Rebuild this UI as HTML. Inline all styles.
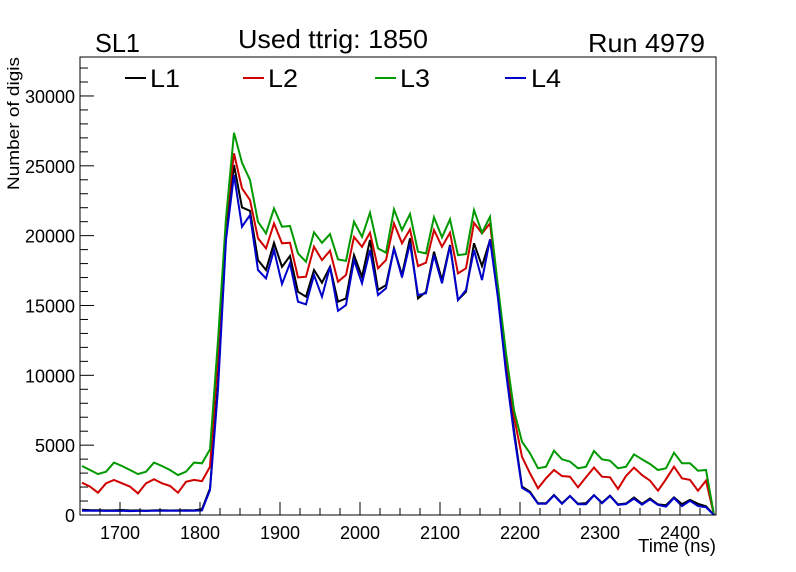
<!DOCTYPE html>
<html><head><meta charset="utf-8"><style>
html,body{margin:0;padding:0;background:#fff;}
svg{display:block;font-family:"Liberation Sans",Arial,sans-serif;}
</style></head><body>
<svg id="chart" width="796" height="572" viewBox="0 0 796 572" xmlns="http://www.w3.org/2000/svg">
<rect x="0" y="0" width="796" height="572" fill="#fff"/>
<text x="95" y="52" font-size="26" textLength="45" lengthAdjust="spacingAndGlyphs">SL1</text>
<text x="238" y="48" font-size="26" textLength="190" lengthAdjust="spacingAndGlyphs">Used ttrig: 1850</text>
<text x="588" y="52" font-size="26" textLength="117" lengthAdjust="spacingAndGlyphs">Run 4979</text>
<g id="plot"></g>
<text x="638" y="552" font-size="18" textLength="78" lengthAdjust="spacingAndGlyphs">Time (ns)</text>
<text transform="translate(19,190) rotate(-90)" font-size="17" textLength="133" lengthAdjust="spacingAndGlyphs">Number of digis</text>
<g>
<g><line x1="125" y1="78" x2="146" y2="78" stroke="#000" stroke-width="2"/><text x="150" y="87" font-size="25" textLength="30" lengthAdjust="spacingAndGlyphs">L1</text></g>
<g><line x1="243" y1="78" x2="264" y2="78" stroke="#d00000" stroke-width="2"/><text x="268" y="87" font-size="25" textLength="30" lengthAdjust="spacingAndGlyphs">L2</text></g>
<g><line x1="375" y1="78" x2="396" y2="78" stroke="#009900" stroke-width="2"/><text x="400" y="87" font-size="25" textLength="30" lengthAdjust="spacingAndGlyphs">L3</text></g>
<g><line x1="505" y1="78" x2="526" y2="78" stroke="#0000cc" stroke-width="2"/><text x="531" y="87" font-size="25" textLength="30" lengthAdjust="spacingAndGlyphs">L4</text></g>
</g>
</svg>
<script>
const xTicks = [1700,1800,1900,2000,2100,2200,2300,2400];
const yTicks = [0,5000,10000,15000,20000,25000,30000];
const seriesNames = ["L1","L2","L3","L4"];
const L3 = [3510,3220,2930,3100,3750,3510,3220,2930,3100,3750,3510,3220,2860,3100,3750,3700,
 4700,12500,21250,
 27370,25220,23980,21000,20160,21950,20640,20690,18730,18130,20240,19490,20110,18300,18200,21000,19920,
 21640,19090,18780,21880,20400,21550,18850,18730,21310,19880,21170,18610,18680,21830,20210,21350,
 16340,11600,7500,5250,4420,3340,3460,4600,3990,
 3820,3340,3460,4580,3990,3890,3340,3460,4340,3990,3650,3220,3340,4460,3700,3700,3170,3220,0];
const L2 = [2310,2030,1600,2270,2510,2270,2030,1550,2270,2560,2270,2080,1600,2380,2510,2430,
 3460,11500,21100,
 25890,23390,22550,19810,19090,20880,19450,19490,17010,17060,19210,18250,18920,16700,17180,19900,19200,
 20210,17660,18250,20880,19450,20450,17820,18060,20400,19210,20210,17300,17660,20920,20160,20880,
 16000,11330,7040,4170,2980,1910,2630,3220,2790,
 2740,1980,2700,3390,2740,2700,1860,2790,3390,2860,2460,1740,2560,3460,2630,2510,1740,2460,0];
const L1 = [380,350,340,330,330,360,320,330,310,330,340,320,330,340,330,420,
 1900,9500,20400,
 25050,22020,21780,18250,17540,19490,17770,18540,15980,15630,17540,16630,17770,15270,15510,18610,17060,
 19690,16110,16460,19090,17180,19810,15510,15980,18850,16820,19330,15390,15980,19450,17820,19690,
 16340,10620,6080,2030,1670,840,840,1430,840,
 1360,800,850,1420,880,1380,760,820,1250,800,1180,760,700,1260,780,1080,800,620,0];
const L4 = [300,300,300,290,290,310,280,290,290,300,300,300,300,310,310,330,
 1790,9000,19700,
 24340,20640,21470,17540,16940,18970,16540,18020,15270,15080,17180,15630,17770,14620,15030,18250,16590,
 18970,15750,16230,19090,17010,19450,15750,15870,18610,16590,19260,15390,16110,18970,16820,19740,
 15500,10200,5800,1950,1600,800,800,1400,800,
 1360,770,770,1410,840,1360,720,790,1170,740,1120,720,600,1220,640,1020,640,550,0];
const binStart = 1652.5, binWidth = 10;

const NS="http://www.w3.org/2000/svg";
const PL=80, PR=716, PT=57, PB=515, XMIN=1650, XMAX=2445, YMAX=32790;
const sx=v=>PL+(v-XMIN)/(XMAX-XMIN)*(PR-PL);
const sy=v=>PB-v/YMAX*(PB-PT);
const plot=document.getElementById('plot');
function mk(tag,attrs){const e=document.createElementNS(NS,tag);for(const k in attrs)e.setAttribute(k,attrs[k]);return e;}

const defs=mk('defs',{});const cp=mk('clipPath',{id:'clip'});
cp.appendChild(mk('rect',{x:PL,y:PT,width:PR-PL,height:PB-PT}));defs.appendChild(cp);plot.appendChild(defs);

const colors={L1:"#000000",L2:"#d00000",L3:"#009900",L4:"#0000cc"};
const data={L1:L1,L2:L2,L3:L3,L4:L4};
const lg=mk('g',{'clip-path':'url(#clip)'});


seriesNames.forEach(n=>{
  const pts=data[n].map((v,i)=>sx(binStart+i*binWidth).toFixed(1)+','+sy(v).toFixed(1)).join(' ');
  const pl=mk('polyline',{points:pts,fill:'none',stroke:colors[n],'stroke-width':2,'stroke-linejoin':'miter'});
  
  
  lg.appendChild(pl);
});
plot.appendChild(lg);

const frame=mk('rect',{x:PL,y:PT,width:PR-PL,height:PB-PT,fill:'none',stroke:'#000','stroke-width':1});


plot.appendChild(frame);

for(let v=0;v<=YMAX;v+=1000){
  const y=sy(v);const major=v%5000===0;
  const t=mk('line',{x1:PL,y1:y,x2:PL+(major?14:8),y2:y,stroke:'#000','stroke-width':1});
  
  
  plot.appendChild(t);
}
yTicks.forEach(v=>{
  const t=mk('text',{x:75,y:sy(v)+7,'font-size':18,'text-anchor':'end'});
  t.textContent=String(v);
  
  
  plot.appendChild(t);
});
for(let v=1675;v<=XMAX;v+=25){
  const x=sx(v);const major=v%100===0;
  const t=mk('line',{x1:x,y1:PB,x2:x,y2:PB-(major?13:7),stroke:'#000','stroke-width':1});
  
  
  plot.appendChild(t);
}
xTicks.forEach(v=>{
  const t=mk('text',{x:sx(v),y:539,'font-size':18,'text-anchor':'middle'});
  t.textContent=String(v);
  
  
  plot.appendChild(t);
});
</script>
</body></html>
